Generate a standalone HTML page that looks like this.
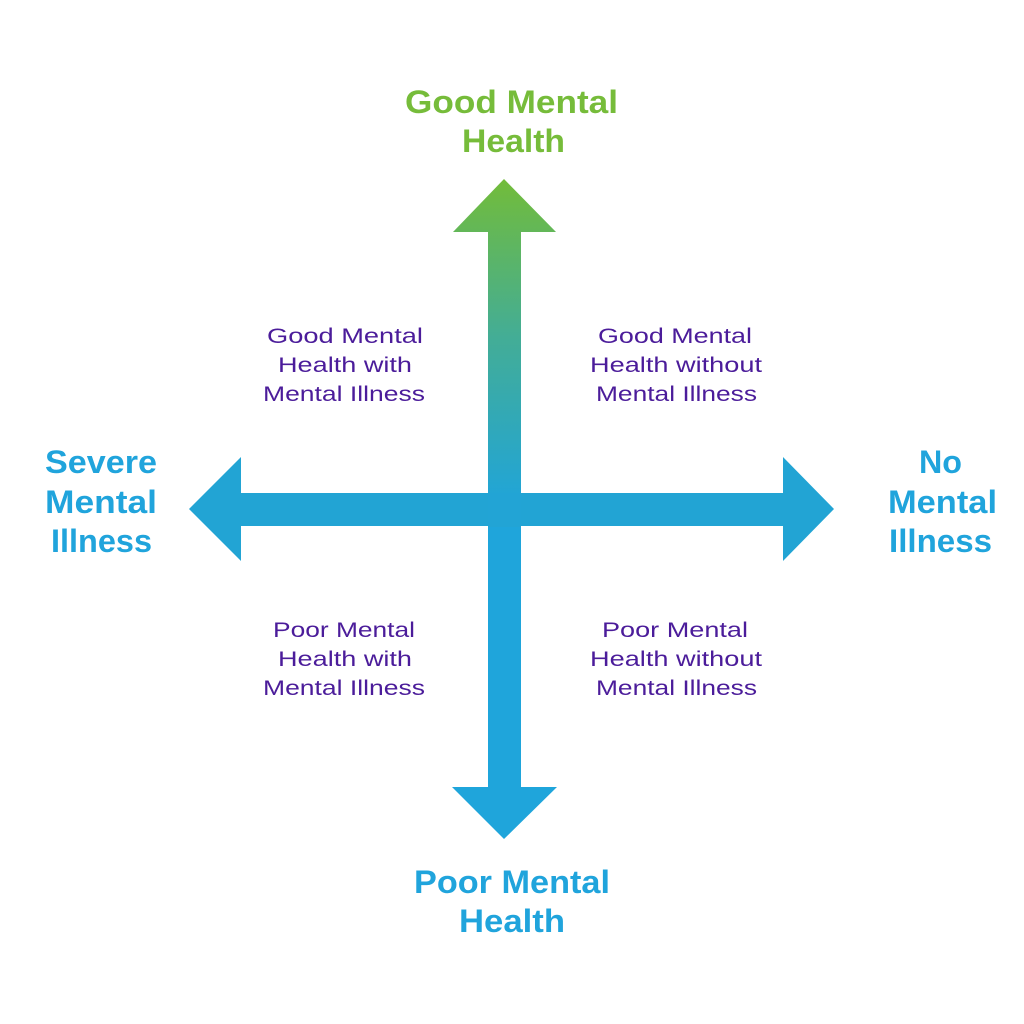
<!DOCTYPE html>
<html>
<head>
<meta charset="utf-8">
<style>
html,body{margin:0;padding:0;background:#fff;}
svg{display:block;}
.t{font-family:"Liberation Sans",sans-serif;font-weight:bold;font-size:32px;}
.q{font-family:"Liberation Sans",sans-serif;font-size:21px;fill:#4b1c9a;}
</style>
</head>
<body>
<svg width="1024" height="1024" viewBox="0 0 1024 1024" xmlns="http://www.w3.org/2000/svg">
<defs>
<linearGradient id="vg" x1="0" y1="180" x2="0" y2="495" gradientUnits="userSpaceOnUse">
<stop offset="0" stop-color="#72bc3a"/>
<stop offset="0.5" stop-color="#43ad96"/>
<stop offset="1" stop-color="#22a5d5"/>
</linearGradient>
</defs>
<rect width="1024" height="1024" fill="#fff"/>
<!-- horizontal arrow -->
<polygon points="189,509 241,457 241,493 783,493 783,457 834,509 783,561 783,526 241,526 241,561" fill="#22a4d4"/>
<!-- vertical top (gradient) -->
<polygon points="504,179 556,232 521,232 521,494 488,494 488,232 453,232" fill="url(#vg)"/>
<!-- vertical bottom -->
<polygon points="488,526 521,526 521,787 557,787 504,839 452,787 488,787" fill="#1fa5db"/>
<rect x="488" y="493" width="33" height="34" fill="#22a4d5"/>

<!-- main labels -->
<g class="t" fill="#76bc3a">
<text x="405" y="113" textLength="213" lengthAdjust="spacingAndGlyphs">Good Mental</text>
<text x="462" y="152" textLength="103" lengthAdjust="spacingAndGlyphs">Health</text>
</g>
<g class="t" fill="#20a4dc">
<text x="414" y="893" textLength="196" lengthAdjust="spacingAndGlyphs">Poor Mental</text>
<text x="459" y="932" textLength="106" lengthAdjust="spacingAndGlyphs">Health</text>
<text x="45" y="473" textLength="112" lengthAdjust="spacingAndGlyphs">Severe</text>
<text x="45" y="513" textLength="112" lengthAdjust="spacingAndGlyphs">Mental</text>
<text x="51" y="552" textLength="101" lengthAdjust="spacingAndGlyphs">Illness</text>
<text x="919" y="473" textLength="43" lengthAdjust="spacingAndGlyphs">No</text>
<text x="888" y="513" textLength="109" lengthAdjust="spacingAndGlyphs">Mental</text>
<text x="889" y="552" textLength="103" lengthAdjust="spacingAndGlyphs">Illness</text>
</g>

<!-- quadrant labels -->
<g class="q">
<text x="267" y="343" textLength="156" lengthAdjust="spacingAndGlyphs">Good Mental</text>
<text x="278" y="372" textLength="134" lengthAdjust="spacingAndGlyphs">Health with</text>
<text x="263" y="401" textLength="162" lengthAdjust="spacingAndGlyphs">Mental Illness</text>

<text x="598" y="343" textLength="154" lengthAdjust="spacingAndGlyphs">Good Mental</text>
<text x="590" y="372" textLength="172" lengthAdjust="spacingAndGlyphs">Health without</text>
<text x="596" y="401" textLength="161" lengthAdjust="spacingAndGlyphs">Mental Illness</text>

<text x="273" y="637" textLength="142" lengthAdjust="spacingAndGlyphs">Poor Mental</text>
<text x="278" y="666" textLength="134" lengthAdjust="spacingAndGlyphs">Health with</text>
<text x="263" y="695" textLength="162" lengthAdjust="spacingAndGlyphs">Mental Illness</text>

<text x="602" y="637" textLength="146" lengthAdjust="spacingAndGlyphs">Poor Mental</text>
<text x="590" y="666" textLength="172" lengthAdjust="spacingAndGlyphs">Health without</text>
<text x="596" y="695" textLength="161" lengthAdjust="spacingAndGlyphs">Mental Illness</text>
</g>
</svg>
</body>
</html>
